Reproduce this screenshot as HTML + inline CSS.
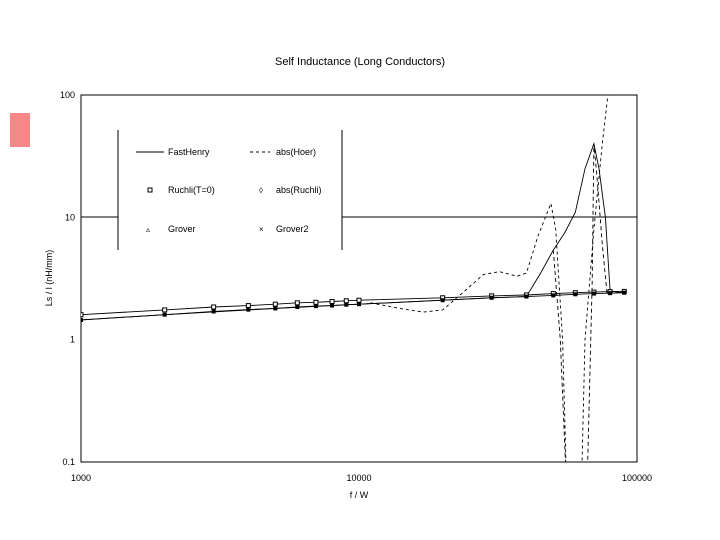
<!DOCTYPE html>
<html><head><meta charset="utf-8"><style>
body{margin:0;background:#fff;}
svg{display:block;font-family:"Liberation Sans",sans-serif;}
</style></head><body>
<svg id="c" width="720" height="540">
<rect x="10" y="113" width="20" height="34" fill="#f46a6a" opacity="0.8"/>
<text x="360" y="65" font-size="11" text-anchor="middle">Self Inductance (Long Conductors)</text>
<rect x="81" y="95" width="556" height="367" fill="none" stroke="#000" stroke-width="1"/>
<g id="ticks"></g>
<text x="359" y="498" font-size="9" text-anchor="middle">f / W</text>
<text transform="translate(52,278) rotate(-90)" font-size="9" text-anchor="middle">Ls / l (nH/mm)</text>
<clipPath id="clip"><rect x="81" y="95" width="556" height="367"/></clipPath>
<g id="series" clip-path="url(#clip)"></g>
<g>
<rect x="118" y="130" width="224" height="120" fill="#fff" stroke="none"/>
<line x1="118" y1="130" x2="118" y2="250" stroke="#000"/>
<line x1="342" y1="130" x2="342" y2="250" stroke="#000"/>
<line x1="81" y1="217" x2="118" y2="217" stroke="#000"/>
<line x1="342" y1="217" x2="637" y2="217" stroke="#000"/>
<g><line x1="136" y1="152" x2="164" y2="152" stroke="#000"/><text x="168" y="155" font-size="9">FastHenry</text></g>
<g><line x1="250" y1="152" x2="270" y2="152" stroke="#000" stroke-dasharray="3,3"/><text x="276" y="155" font-size="9">abs(Hoer)</text></g>
<g><rect x="148" y="188" width="4" height="4" fill="none" stroke="#000"/><text x="168" y="193" font-size="9">Ruchli(T=0)</text></g>
<g><text x="259" y="193" font-size="8">◊</text><text x="276" y="193" font-size="9">abs(Ruchli)</text></g>
<g><text x="146" y="232" font-size="8">▵</text><text x="168" y="232" font-size="9">Grover</text></g>
<g><text x="259" y="232" font-size="8">×</text><text x="276" y="232" font-size="9">Grover2</text></g>
</g>
</svg>
<script>
const yTicks=[0.1,1,10,100];
const yTickLabels=["0.1","1","10","100"];
const xTicks=[1000,10000,100000];
const xTickLabels=["1000","10000","100000"];
const markerFreq=[1000,2000,3000,4000,5000,6000,7000,8000,9000,10000,20000,30000,40000,50000,60000,70000,80000,90000];
const ruchliVals=[1.6,1.75,1.85,1.9,1.95,2.0,2.02,2.05,2.08,2.1,2.2,2.28,2.32,2.38,2.42,2.45,2.47,2.48];
const groverVals=[1.45,1.6,1.7,1.76,1.8,1.85,1.88,1.9,1.93,1.95,2.1,2.2,2.25,2.3,2.35,2.38,2.4,2.42];
const fhFreq=[1000,2000,5000,10000,20000,30000,40000,45000,50000,55000,60000,65000,70000,73000,77000,80000,90000];
const fhVals=[1.45,1.6,1.8,1.95,2.1,2.2,2.25,3.5,5.4,7.5,11,25,40,25,10,2.5,2.4];
const hoerFreq=[11000,14000,17000,20000,24000,28000,32000,37000,40000,44000,49000,51000,54000,56000,63000,65000,70000,75000,79000];
const hoerVals=[2.0,1.8,1.68,1.75,2.5,3.4,3.6,3.3,3.5,7,13,8,1,0.05,0.05,1,8,40,110];
const absRuchliFreq=[50000,53000,56000,60000,66000,69000,70000,72000,75000,78000];
const absRuchliVals=[5.4,1,0.05,0.05,0.05,3,40,20,6,2.4];
const X0=81,X1=637,Y0=462,Y1=95;
const xs=f=>X0+(X1-X0)*(Math.log10(f)-3)/2;
const ys=v=>Y0-(Y0-Y1)*(Math.log10(v)+1)/3;
const NS="http://www.w3.org/2000/svg";
function mk(t,a,p){const e=document.createElementNS(NS,t);for(const k in a)e.setAttribute(k,a[k]);p.appendChild(e);return e;}
const ticks=document.getElementById('ticks'),ser=document.getElementById('series');
yTicks.forEach((v,i)=>{const t=mk('text',{x:75,y:ys(v)+3,'font-size':9,'text-anchor':'end'},ticks);t.textContent=yTickLabels[i];

});
xTicks.forEach((v,i)=>{const t=mk('text',{x:xs(v),y:481,'font-size':9,'text-anchor':'middle'},ticks);t.textContent=xTickLabels[i];

});
function line(fr,vals,dash,name){const d=fr.map((f,i)=>(i?'L':'M')+xs(f).toFixed(1)+','+ys(vals[i]).toFixed(1)).join('');
const p=mk('path',{d:d,fill:'none',stroke:'#000','stroke-width':0.9},ser);if(dash)p.setAttribute('stroke-dasharray',dash);

}
line(markerFreq,ruchliVals,null,'ruchli-line');
line(markerFreq,groverVals,null,'grover-line');
line(fhFreq,fhVals,null,'fasthenry-line');
line(hoerFreq,hoerVals,'3,3','abs-hoer-line');
line(absRuchliFreq,absRuchliVals,'4,3','abs-ruchli-line');
markerFreq.forEach((f,i)=>{const r=mk('rect',{x:xs(f)-2,y:ys(ruchliVals[i])-2,width:4,height:4,fill:'#fff',stroke:'#000'},ser);


const g=mk('rect',{x:xs(f)-2,y:ys(groverVals[i])-2,width:4,height:4,fill:'#000'},ser);

});
</script>
</body></html>
